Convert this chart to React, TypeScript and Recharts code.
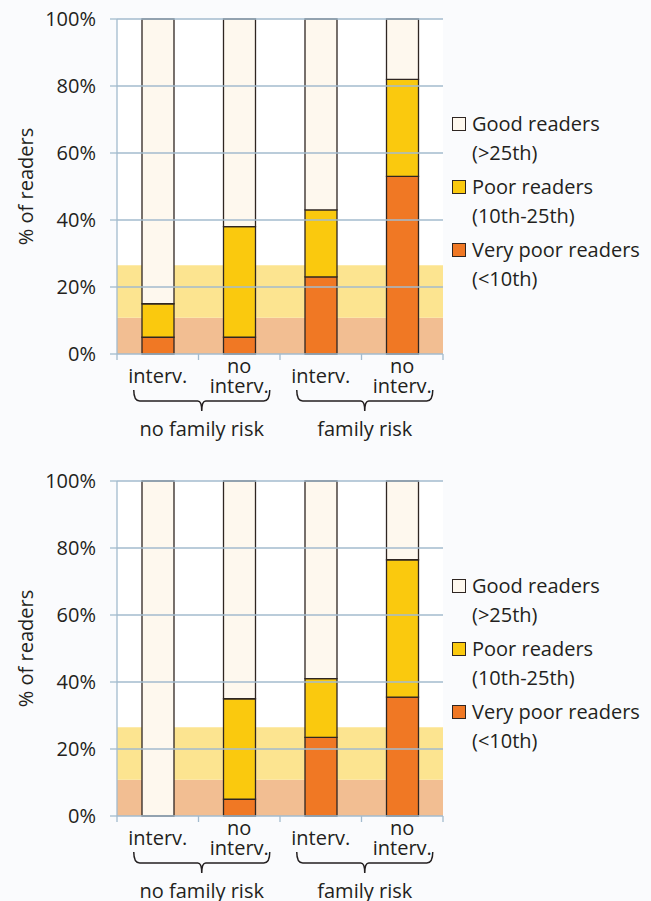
import React from 'react';
import { BarChart, Bar, XAxis, YAxis, ReferenceArea, ReferenceLine, Legend } from 'recharts';

const categories = ['interv.', 'no interv.', 'interv.', 'no interv.'];
const tickLines = [['interv.'], ['no', 'interv.'], ['interv.'], ['no', 'interv.']];
const groups = ['no family risk', 'family risk'];
const groupStart = [0, 2];

const seriesNames = ['Good readers', 'Poor readers', 'Very poor readers'];
const seriesSub = ['(>25th)', '(10th-25th)', '(<10th)'];

const topVeryPoor = [5, 5, 23, 53];
const topPoor = [10, 33, 20, 29];
const topGood = [85, 62, 57, 18];

const bottomVeryPoor = [0, 5, 23.5, 35.5];
const bottomPoor = [0, 30, 17.5, 41];
const bottomGood = [100, 65, 59, 23.5];

const yTicks = [0, 20, 40, 60, 80, 100];
const veryPoorBand = [0, 10.8];
const poorBand = [10.8, 26.5];

const COLORS = { good: '#FEF8EE', poor: '#FAC90E', veryPoor: '#F07824' };
const BAND_ORANGE = '#F2BE92';
const BAND_YELLOW = '#FCE490';
const GRID = '#A3BBCE';
const TEXT = '#231F20';
const STROKE = '#2f2622';
const FONT = '"Open Sans", sans-serif';
const WEIGHT = 500;
const BANDW = 81.5;

const buildData = (vp: number[], p: number[], g: number[]) =>
  categories.map((c, i) => ({ cat: `${c}-${i}`, veryPoor: vp[i], poor: p[i], good: g[i] }));

const CatTick = (props: any) => {
  const { x, y, payload } = props;
  const i = payload.index;
  const lines = tickLines[i];
  const gi = groupStart.indexOf(i);
  const half = BANDW / 2;
  let brace = null;
  if (gi >= 0) {
    const L = x - 24;
    const R = x + 112;
    const C = x + 44;
    const T = y + 36;
    const H = y + 47;
    const S = y + 57;
    const d = `M ${L} ${T} Q ${L} ${H} ${L + 6} ${H} L ${C - 4} ${H} Q ${C} ${H} ${C} ${S} Q ${C} ${H} ${C + 4} ${H} L ${R - 6} ${H} Q ${R} ${H} ${R} ${T}`;
    brace = (
      <g>
        <path d={d} fill="none" stroke={TEXT} strokeWidth={1.5} />
        <text x={C} y={y + 82} textAnchor="middle" fontSize={20} fontWeight={WEIGHT} fill={TEXT} fontFamily={FONT}>
          {groups[gi]}
        </text>
      </g>
    );
  }
  return (
    <g>
      <line x1={x - half} x2={x - half} y1={y} y2={y + 6} stroke={GRID} strokeWidth={1.3} />
      {i === categories.length - 1 && (
        <line x1={x + half} x2={x + half} y1={y} y2={y + 6} stroke={GRID} strokeWidth={1.3} />
      )}
      {lines.length === 1 ? (
        <text x={x} y={y + 29} textAnchor="middle" fontSize={20} fontWeight={WEIGHT} fill={TEXT} fontFamily={FONT}>
          {lines[0]}
        </text>
      ) : (
        <text textAnchor="middle" fontSize={20} fontWeight={WEIGHT} fill={TEXT} fontFamily={FONT}>
          <tspan x={x} y={y + 19}>{lines[0]}</tspan>
          <tspan x={x} y={y + 39}>{lines[1]}</tspan>
        </text>
      )}
      {brace}
    </g>
  );
};

const LegendContent = () => {
  const colors = [COLORS.good, COLORS.poor, COLORS.veryPoor];
  return (
    <div style={{ fontFamily: FONT, fontSize: 20, fontWeight: WEIGHT, color: TEXT, lineHeight: '28.5px' }}>
      {seriesNames.map((n, i) => (
        <div key={n} style={{ display: 'flex', alignItems: 'flex-start', marginBottom: 6 }}>
          <div
            style={{
              width: 12,
              height: 12,
              border: `1px solid ${STROKE}`,
              background: colors[i],
              marginTop: 7,
              marginRight: 6,
              flexShrink: 0,
            }}
          />
          <div>
            <div style={{ whiteSpace: 'nowrap' }}>{n}</div>
            <div style={{ whiteSpace: 'nowrap' }}>{seriesSub[i]}</div>
          </div>
        </div>
      ))}
    </div>
  );
};

const Panel = ({ data }: { data: any[] }) => (
  <BarChart
    width={651}
    height={461}
    data={data}
    margin={{ top: 19, right: 208, left: 0, bottom: 0 }}
    barSize={32}
  >
    <ReferenceArea y1={0} y2={100} fill="#ffffff" fillOpacity={1} stroke="none" />
    <ReferenceArea y1={veryPoorBand[0]} y2={veryPoorBand[1]} fill={BAND_ORANGE} fillOpacity={1} stroke="none" />
    <ReferenceArea y1={poorBand[0]} y2={poorBand[1]} fill={BAND_YELLOW} fillOpacity={1} stroke="none" />
    {yTicks.slice(1).map((t) => (
      <ReferenceLine key={t} y={t} stroke={GRID} strokeWidth={1.3} />
    ))}
    <XAxis
      dataKey="cat"
      height={107}
      axisLine={{ stroke: GRID, strokeWidth: 1.3 }}
      tickLine={false}
      tickSize={0}
      tickMargin={0}
      interval={0}
      tick={<CatTick />}
    />
    <YAxis
      width={117}
      domain={[0, 100]}
      ticks={yTicks}
      tickFormatter={(v) => `${v}%`}
      axisLine={{ stroke: GRID, strokeWidth: 1.3 }}
      tickLine={{ stroke: GRID, strokeWidth: 1.3 }}
      tickSize={7}
      tickMargin={14}
      tick={{ fontSize: 20, fill: TEXT, fontFamily: FONT, fontWeight: WEIGHT }}
      label={{
        value: '% of readers',
        angle: -90,
        position: 'center',
        dx: -33,
        style: { fontSize: 20, fill: TEXT, fontFamily: FONT, fontWeight: WEIGHT, textAnchor: 'middle' },
      }}
    />
    <Legend
      layout="horizontal"
      verticalAlign="middle"
      align="center"
      content={<LegendContent />}
      wrapperStyle={{ position: 'absolute', left: 452, top: 110, width: 200, height: 190 }}
    />
    <Bar dataKey="veryPoor" stackId="a" fill={COLORS.veryPoor} stroke={STROKE} strokeWidth={1.3} isAnimationActive={false} />
    <Bar dataKey="poor" stackId="a" fill={COLORS.poor} stroke={STROKE} strokeWidth={1.3} isAnimationActive={false} />
    <Bar dataKey="good" stackId="a" fill={COLORS.good} stroke={STROKE} strokeWidth={1.3} isAnimationActive={false} />
  </BarChart>
);

export default function App() {
  const top = buildData(topVeryPoor, topPoor, topGood);
  const bottom = buildData(bottomVeryPoor, bottomPoor, bottomGood);
  return (
    <div
      style={{
        position: 'absolute',
        left: 0,
        top: 0,
        width: 651,
        height: 901,
        overflow: 'hidden',
        background: '#FAFBFD',
      }}
    >
      <div style={{ position: 'absolute', left: 0, top: 0 }}>
        <Panel data={top} />
      </div>
      <div style={{ position: 'absolute', left: 0, top: 462 }}>
        <Panel data={bottom} />
      </div>
    </div>
  );
}
